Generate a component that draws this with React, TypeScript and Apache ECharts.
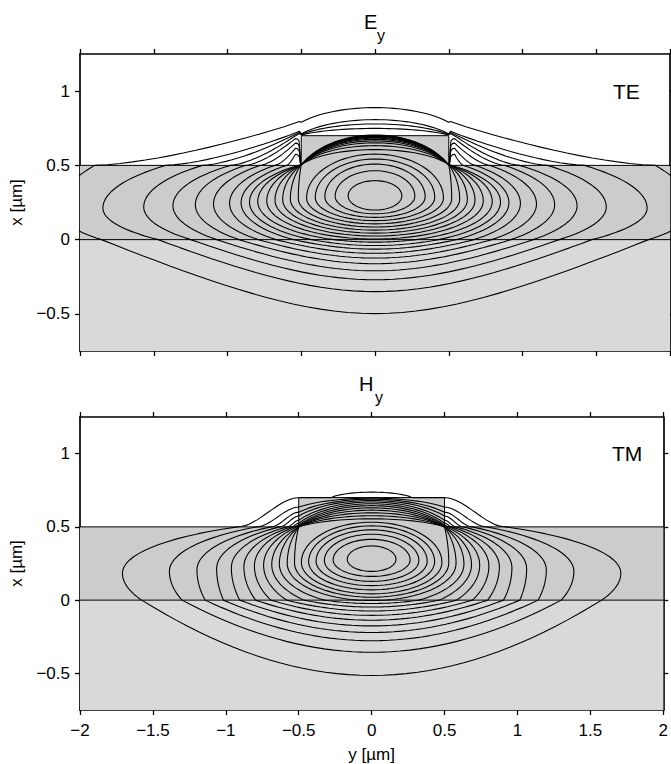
import { useEffect, useRef } from "react";
import * as echarts from "echarts";

// ---------- axes / geometry (µm) ----------
const Y_MIN = -2;
const Y_MAX = 2;
const Y_STEP = 0.5;
const X_MIN = -0.75;
const X_MAX = 1.25;
const X_TICKS = [-0.5, 0, 0.5, 1];
const FILM_TOP = 0.5;
const RIB_TOP = 0.7;
const RIB_HALF = 0.5;

const PANEL_SYMBOL = ["E", "H"];
const PANEL_SUB = ["y", "y"];
const PANEL_MODE = ["TE", "TM"];

// ---------- TE (E_y) contours, right half (mirrored about y = 0), inner -> outer ----------
const TE_KIND = ["A", "A", "A", "A", "A", "B", "B", "B", "B", "B", "B", "B", "T", "T", "T", "T", "D", "D", "D", "D"];
const TE_TOP = [0.397, 0.464, 0.509, 0.543, 0.576, 0.606, 0.633, 0.652, 0.665, 0.675, 0.683, 0.689, 0.694, 0.698, 0.701, 0.704, 0.749, 0.779, 0.808, 0.889];
const TE_VERT_Y = [0.182, 0.27, 0.34, 0.405, 0.464, 0.52, 0.574, 0.626, 0.678, 0.734, 0.795, 0.851, 0.908, 0.986, 1.095, 1.218, 1.37, 1.568, 1.845, 2.15];
const TE_VERT_X = [0.295, 0.292, 0.288, 0.284, 0.28, 0.276, 0.272, 0.268, 0.264, 0.26, 0.256, 0.252, 0.248, 0.244, 0.24, 0.235, 0.228, 0.22, 0.212, 0.2];
const TE_BOTTOM = [0.199, 0.174, 0.15, 0.128, 0.106, 0.085, 0.064, 0.044, 0.024, 0.004, -0.017, -0.04, -0.064, -0.092, -0.124, -0.162, -0.21, -0.27, -0.35, -0.498];
const TE_WALL_X = [null, null, null, null, null, null, null, null, null, null, null, null, 0.575, 0.615, 0.65, 0.68, 0.705, 0.708, 0.712, 0.79];
const TE_CUSP_X = [null, null, null, null, null, null, null, null, null, null, null, null, null, null, null, null, 0.715, 0.722, 0.73, 0.795];
const TE_GUIDE_Y = [null, null, null, null, null, null, null, null, null, null, null, null, 0.6, 0.68, 0.78, 0.88, 0.98, 1.17, 1.42, 1.9];
// substrate part of the lower branches: [slope scale, rounding width]
const TE_SUB = [0.45, 1.0];

// ---------- TM (H_y) contours ----------
const TM_KIND = ["A", "A", "A", "A", "A", "A", "S", "S", "S", "S", "S", "S", "S", "S", "S", "S", "S", "S"];
const TM_TOP = [0.37, 0.415, 0.45, 0.48, 0.507, 0.532, 0.555, 0.576, 0.596, 0.614, 0.63, 0.645, 0.658, 0.67, 0.68, 0.689, 0.696, 0.737];
const TM_VERT_Y = [0.167, 0.264, 0.324, 0.381, 0.432, 0.482, 0.529, 0.579, 0.633, 0.685, 0.741, 0.804, 0.876, 0.962, 1.063, 1.198, 1.387, 1.709];
const TM_VERT_X = [0.278, 0.274, 0.27, 0.266, 0.262, 0.258, 0.254, 0.25, 0.246, 0.242, 0.238, 0.234, 0.228, 0.222, 0.215, 0.207, 0.197, 0.185];
const TM_BOTTOM = [0.196, 0.162, 0.128, 0.099, 0.07, 0.043, 0.02, -0.002, -0.023, -0.047, -0.074, -0.104, -0.137, -0.176, -0.221, -0.277, -0.356, -0.514];
const TM_WALL_X = [null, null, null, null, null, null, 0.5, 0.5, 0.5, 0.5, 0.505, 0.512, 0.525, 0.545, 0.574, 0.6, 0.635, 0.699];
const TM_GUIDE_Y = [null, null, null, null, null, null, 0.5, 0.5, 0.5, 0.5, 0.515, 0.53, 0.55, 0.58, 0.63, 0.69, 0.79, 0.92];
const TM_DOME_W = [0.5, 0.5, 0.5, 0.5, 0.5, 0.5, 0.5, 0.5, 0.5, 0.5, 0.5, 0.5, 0.5, 0.5, 0.5, 0.5, 0.5, 0.28];
const TM_SUB = [1.32, 3.0];

// ---------- geometry helpers (curves through the read key points) ----------
const DEG = Math.PI / 180;
type P = [number, number];
const lin = (a: number, b: number, n: number) => {
  const r: number[] = [];
  for (let i = 0; i <= n; i++) r.push(a + ((b - a) * i) / n);
  return r;
};
function dome(top: number, xe: number, A: number, yEnd: number, n = 16): P[] {
  const s0 = Math.sqrt(1 - (yEnd / A) ** 2);
  return lin(0, yEnd, n).map((y) => {
    const g = (Math.sqrt(1 - (y / A) ** 2) - s0) / (1 - s0);
    return [y, xe + (top - xe) * g] as P;
  });
}
function upperEllipse(top: number, vy: number, vx: number, n = 20): P[] {
  return lin(90, 0, n).map((a) => [vy * Math.cos(a * DEG), vx + (top - vx) * Math.sin(a * DEG)] as P);
}
function layerPart(y0: number, x0: number, vy: number, vx: number, n = 16): P[] {
  const den = vy * vy - y0 * y0;
  const pts: P[] = [];
  for (let i = 1; i <= n; i++) {
    const w = i / n;
    const u = 1 - (1 - w) * (1 - w);
    const y = y0 + (vy - y0) * u;
    const r = den > 1e-9 ? Math.sqrt(Math.max(0, (vy * vy - y * y) / den)) : 0;
    pts.push([y, vx + (x0 - vx) * r]);
  }
  return pts;
}
function airDescent(y0: number, x0: number, y1: number, n = 16): P[] {
  return lin(0, 1, n).slice(1).map((s) => [y0 + s * (y1 - y0), FILM_TOP + (x0 - FILM_TOP) * Math.pow(1 - s, 1.5)] as P);
}
function shoulder(xw: number, y1: number, n = 16): P[] {
  return lin(0, 1, n).slice(1).map((s) => [RIB_HALF + s * (y1 - RIB_HALF), FILM_TOP + (xw - FILM_TOP) * (1 - (3 * s * s - 2 * s * s * s))] as P);
}
function lowerBranch(vy: number, vx: number, b: number, sub: number[]): P[] {
  const pts: P[] = [];
  if (b >= 0) {
    lin(0, 90, 20).slice(1).forEach((a) => pts.push([vy * Math.cos(a * DEG), vx - (vx - b) * Math.sin(a * DEG)]));
    return pts;
  }
  const [k, y0] = sub;
  const S = (y: number) => k * (Math.sqrt(y0 * y0 + y * y) - y0);
  const t = -b / k + y0;
  let c0 = Math.sqrt(t * t - y0 * y0);
  if (c0 > vy * 0.97) c0 = vy * 0.97;
  const ratio = c0 / vy;
  const bb = vx / Math.sqrt(1 - ratio * ratio);
  const a0 = Math.acos(ratio) / DEG;
  lin(0, a0, 16).slice(1).forEach((a) => pts.push([vy * Math.cos(a * DEG), vx - bb * Math.sin(a * DEG)]));
  const miss = b + S(c0); // zero unless c0 was clamped
  lin(c0, 0, 20).slice(1).forEach((y) => pts.push([y, b + S(y) - miss * (y / c0)]));
  return pts;
}

type Spec = {
  kind: string; top: number; vy: number; vx: number; bottom: number;
  wall: number | null; cusp: number | null; guide: number | null; domeW: number; sub: number[];
};

function halfPath(c: Spec): P[] {
  let up: P[] = [];
  const K: P = [RIB_HALF, 0.505];
  if (c.kind === "A") {
    up = upperEllipse(c.top, c.vy, c.vx);
  } else if (c.kind === "B") {
    up = [...dome(c.top, 0.512, 0.55, 0.49), K, ...layerPart(RIB_HALF, 0.505, c.vy, c.vx)];
  } else if (c.kind === "T") {
    const w = c.wall as number;
    const g = c.guide as number;
    up = [
      ...dome(c.top, 0.512, 0.55, 0.49), K,
      [0.506, 0.52], [0.51, w - 0.45 * (w - 0.52)], [0.515, w - 0.015], [0.527, w - 0.002], [0.54, w],
      ...airDescent(0.54, w, g),
      ...layerPart(g, FILM_TOP, c.vy, c.vx),
    ];
  } else if (c.kind === "D") {
    const w = c.wall as number;
    const cu = c.cusp as number;
    const g = c.guide as number;
    up = [
      ...dome(c.top, w, 0.6, RIB_HALF), [0.512, cu],
      ...airDescent(0.53, cu - 0.008, g),
      ...layerPart(g, FILM_TOP, c.vy, c.vx),
    ];
  } else {
    const w = c.wall as number;
    const g = c.guide as number;
    up = [...dome(c.top, w, c.domeW < 0.5 ? 0.3 : 0.6, c.domeW)];
    if (c.domeW < RIB_HALF) up.push([RIB_HALF, w]);
    if (g > RIB_HALF + 1e-6) up.push(...shoulder(w, g));
    up.push(...layerPart(g, FILM_TOP, c.vy, c.vx));
  }
  return [...up, ...lowerBranch(c.vy, c.vx, c.bottom, c.sub)];
}
function fullPath(half: P[]): P[] {
  const left = half.slice(0, half.length - 1).reverse().map(([y, x]) => [-y, x] as P);
  return [...half, ...left];
}

const teSpecs: Spec[] = TE_KIND.map((kind, i) => ({
  kind, top: TE_TOP[i], vy: TE_VERT_Y[i], vx: TE_VERT_X[i], bottom: TE_BOTTOM[i],
  wall: TE_WALL_X[i], cusp: TE_CUSP_X[i], guide: TE_GUIDE_Y[i], domeW: 0.5, sub: TE_SUB,
}));
const tmSpecs: Spec[] = TM_KIND.map((kind, i) => ({
  kind, top: TM_TOP[i], vy: TM_VERT_Y[i], vx: TM_VERT_X[i], bottom: TM_BOTTOM[i],
  wall: TM_WALL_X[i], cusp: null, guide: TM_GUIDE_Y[i], domeW: TM_DOME_W[i], sub: TM_SUB,
}));

const FONT = "'Liberation Sans', Arial, Helvetica, sans-serif";
const FILL_FILM = "#cccccc";
const FILL_SUB = "#d9d9d9";

const GRIDS = [
  { left: 78, top: 54, width: 592, height: 297 },
  { left: 76, top: 417, width: 592, height: 296 },
];

const fmt = (v: number) => String(v).replace("-", "\u2212");

export default function App() {
  const ref = useRef<HTMLDivElement>(null);
  useEffect(() => {
    if (!ref.current) return;
    const chart = echarts.init(ref.current, undefined, { renderer: "svg" });

    const xAxis: any[] = [];
    const yAxis: any[] = [];
    const series: any[] = [];
    const axLine = { show: true, onZero: false, lineStyle: { color: "#000", width: 1.7 } };
    const axTick = { show: true, inside: false, length: 5, lineStyle: { color: "#000", width: 1.3 } };
    const txt = { color: "#000", fontSize: 17, fontFamily: FONT };

    GRIDS.forEach((_, g) => {
      const isBottom = g === 1;
      xAxis.push({
        type: "value", gridIndex: g, position: "bottom", min: Y_MIN, max: Y_MAX, interval: Y_STEP,
        axisLine: axLine, axisTick: axTick, splitLine: { show: false },
        axisLabel: { show: isBottom, formatter: fmt, margin: 12, showMinLabel: true, showMaxLabel: true, ...txt },
        name: isBottom ? "y [\u00b5m]" : "", nameLocation: "middle", nameGap: 36, nameTextStyle: txt,
      });
      xAxis.push({
        type: "value", gridIndex: g, position: "top", min: Y_MIN, max: Y_MAX, interval: Y_STEP,
        axisLine: axLine, axisTick: axTick, splitLine: { show: false }, axisLabel: { show: false },
      });
      yAxis.push({
        type: "value", gridIndex: g, position: "left", min: X_MIN, max: X_MAX,
        axisLine: axLine, axisTick: { ...axTick, customValues: X_TICKS }, splitLine: { show: false },
        axisLabel: { show: true, customValues: X_TICKS, formatter: fmt, margin: 10, ...txt },
        name: "x [\u00b5m]", nameLocation: "middle", nameGap: 55, nameRotate: 90, nameTextStyle: txt,
      });
      yAxis.push({
        type: "value", gridIndex: g, position: "right", min: X_MIN, max: X_MAX,
        axisLine: axLine, axisTick: { ...axTick, customValues: X_TICKS }, splitLine: { show: false },
        axisLabel: { show: false, customValues: X_TICKS },
      });

      const xi = g * 2;
      const yi = g * 2;
      const regions: { poly: P[]; fill: string }[] = [
        { poly: [[Y_MIN, X_MIN], [Y_MAX, X_MIN], [Y_MAX, 0], [Y_MIN, 0]], fill: FILL_SUB },
        {
          poly: [[Y_MIN, 0], [Y_MAX, 0], [Y_MAX, FILM_TOP], [RIB_HALF, FILM_TOP], [RIB_HALF, RIB_TOP],
            [-RIB_HALF, RIB_TOP], [-RIB_HALF, FILM_TOP], [Y_MIN, FILM_TOP]], fill: FILL_FILM,
        },
      ];
      series.push({
        type: "custom", coordinateSystem: "cartesian2d", xAxisIndex: xi, yAxisIndex: yi, z: 1, silent: true,
        clip: true, data: regions.map((_, i) => [i, 0]),
        renderItem: (params: any, api: any) => {
          const r = regions[params.dataIndex];
          return { type: "polygon", shape: { points: r.poly.map((p) => api.coord(p)) }, style: { fill: r.fill, stroke: "none" } };
        },
      });
      const outlines: P[][] = [
        [[Y_MIN, 0], [Y_MAX, 0]],
        [[Y_MIN, FILM_TOP], [-RIB_HALF, FILM_TOP], [-RIB_HALF, RIB_TOP], [RIB_HALF, RIB_TOP], [RIB_HALF, FILM_TOP], [Y_MAX, FILM_TOP]],
      ];
      outlines.forEach((o) =>
        series.push({
          type: "line", xAxisIndex: xi, yAxisIndex: yi, data: o, showSymbol: false, symbol: "none", silent: true,
          z: 2, lineStyle: { color: "#000", width: 1 }, clip: true,
        })
      );
      const specs = g === 0 ? teSpecs : tmSpecs;
      specs.forEach((s) =>
        series.push({
          type: "line", xAxisIndex: xi, yAxisIndex: yi, data: fullPath(halfPath(s)), showSymbol: false,
          symbol: "none", silent: true, z: 3, smooth: false, clip: true,
          lineStyle: { color: "#000", width: 1.1 },
        })
      );
    });

    const graphic: any[] = [
      { type: "text", left: 364, top: 12, style: { text: PANEL_SYMBOL[0], fontSize: 20, fontFamily: FONT, fill: "#000" } },
      { type: "text", left: 377, top: 27, style: { text: PANEL_SUB[0], fontSize: 16, fontFamily: FONT, fill: "#000" } },
      { type: "text", left: 359, top: 374, style: { text: PANEL_SYMBOL[1], fontSize: 20, fontFamily: FONT, fill: "#000" } },
      { type: "text", left: 375, top: 389, style: { text: PANEL_SUB[1], fontSize: 16, fontFamily: FONT, fill: "#000" } },
      { type: "text", left: 613, top: 81, style: { text: PANEL_MODE[0], fontSize: 21, fontFamily: FONT, fill: "#000" } },
      { type: "text", left: 612, top: 443, style: { text: PANEL_MODE[1], fontSize: 21, fontFamily: FONT, fill: "#000" } },
    ];

    chart.setOption({
      animation: false,
      backgroundColor: "#fff",
      grid: GRIDS.map((g) => ({ ...g, containLabel: false })),
      xAxis,
      yAxis,
      series,
      graphic,
    });
    return () => chart.dispose();
  }, []);
  return <div ref={ref} style={{ position: "absolute", left: 0, top: 0, width: 671, height: 764 }} />;
}
